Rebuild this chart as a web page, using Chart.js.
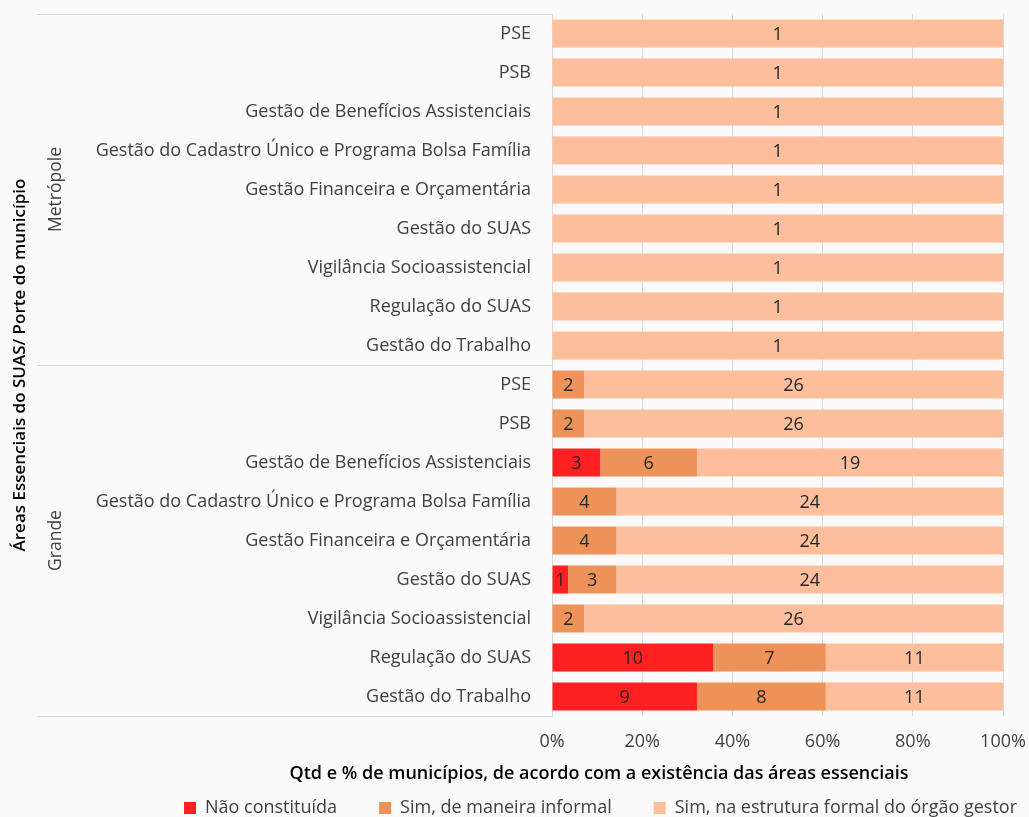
<!DOCTYPE html>
<html>
<head>
<meta charset="utf-8">
<script src="https://cdn.jsdelivr.net/npm/chart.js@4"></script>
<style>
  html, body { margin: 0; padding: 0; background: #fafafa; overflow: hidden; }
  #wrap { width: 1029px; height: 817px; overflow: hidden; }
</style>
</head>
<body>
<div id="wrap"><canvas id="chart" width="1029" height="827"></canvas></div>
<script>
// categories (same 9 areas for each group)
const areas = [
  'PSE',
  'PSB',
  'Gestão de Benefícios Assistenciais',
  'Gestão do Cadastro Único e Programa Bolsa Família',
  'Gestão Financeira e Orçamentária',
  'Gestão do SUAS',
  'Vigilância Socioassistencial',
  'Regulação do SUAS',
  'Gestão do Trabalho'
];
const groups = ['Metrópole', 'Grande'];
const labels = areas.concat(areas);

// counts of municipalities
const naoConstituida = [0, 0, 0, 0, 0, 0, 0, 0, 0,   0, 0, 3, 0, 0, 1, 0, 10, 9];
const simInformal    = [0, 0, 0, 0, 0, 0, 0, 0, 0,   2, 2, 6, 4, 4, 3, 2, 7, 8];
const simFormal      = [1, 1, 1, 1, 1, 1, 1, 1, 1,   26, 26, 19, 24, 24, 24, 26, 11, 11];

const seriesNames = ['Não constituída', 'Sim, de maneira informal', 'Sim, na estrutura formal do órgão gestor'];
const xTitle = 'Qtd e % de municípios, de acordo com a existência das áreas essenciais';
const yTitle = 'Áreas Essenciais do SUAS/ Porte do município';

const totals = labels.map((_, i) => naoConstituida[i] + simInformal[i] + simFormal[i]);
const pct = arr => arr.map((v, i) => v / totals[i] * 100);

const FONT = "'Open Sans', 'Noto Sans', sans-serif";
const GRID = '#d9d9d9';

// draws counts inside bars, group labels, separator lines and x title
const extras = {
  id: 'extras',
  afterDatasetsDraw(chart) {
    const ctx = chart.ctx;
    ctx.save();
    ctx.font = '18px ' + FONT;
    ctx.fillStyle = '#262626';
    ctx.textAlign = 'center';
    ctx.textBaseline = 'middle';
    chart.data.datasets.forEach((ds, di) => {
      const meta = chart.getDatasetMeta(di);
      meta.data.forEach((bar, i) => {
        const n = ds.counts[i];
        if (!n) return;
        ctx.fillText(String(n), (bar.x + bar.base) / 2, bar.y + 1);
      });
    });
    ctx.restore();
  },
  afterDraw(chart) {
    const ctx = chart.ctx;
    const area = chart.chartArea;
    const y = chart.scales.y;
    const x0 = 37;
    ctx.save();
    ctx.strokeStyle = GRID;
    ctx.lineWidth = 1;
    const sep = (y.getPixelForValue(8) + y.getPixelForValue(9)) / 2;
    [area.top, sep, area.bottom].forEach(py => {
      ctx.beginPath();
      ctx.moveTo(x0, Math.round(py) + 0.5);
      ctx.lineTo(area.left, Math.round(py) + 0.5);
      ctx.stroke();
    });
    // group labels
    ctx.font = '17.5px ' + FONT;
    ctx.fillStyle = '#404040';
    ctx.textAlign = 'center';
    ctx.textBaseline = 'middle';
    groups.forEach((g, gi) => {
      const cy = y.getPixelForValue(gi * 9 + 4);
      ctx.save();
      ctx.translate(56, cy);
      ctx.rotate(-Math.PI / 2);
      ctx.fillText(g, 0, 0);
      ctx.restore();
    });
    // x axis title
    ctx.font = '600 18px ' + FONT;
    ctx.fillStyle = '#000';
    ctx.fillText(xTitle, 599, 774);
    ctx.restore();
  }
};

new Chart(document.getElementById('chart'), {
  type: 'bar',
  data: {
    labels: labels,
    datasets: [
      { label: seriesNames[0], data: pct(naoConstituida), counts: naoConstituida, backgroundColor: '#ff2121' },
      { label: seriesNames[1], data: pct(simInformal), counts: simInformal, backgroundColor: '#ed935a' },
      { label: seriesNames[2], data: pct(simFormal), counts: simFormal, backgroundColor: '#fdbf9b' }
    ]
  },
  options: {
    indexAxis: 'y',
    responsive: false,
    animation: false,
    layout: { padding: { top: 14, right: -30, bottom: 0, left: 0 } },
    datasets: { bar: { categoryPercentage: 1, barPercentage: 0.72 } },
    scales: {
      x: {
        stacked: true,
        min: 0,
        max: 100,
        ticks: {
          stepSize: 20,
          padding: 15,
          color: '#404040',
          font: { family: FONT, size: 18 },
          callback: v => v + '%'
        },
        grid: { color: GRID, drawTicks: false },
        border: { display: false },
        afterFit: s => { s.height = 41; s.paddingRight = 26; }
      },
      y: {
        stacked: true,
        ticks: {
          padding: 21,
          color: '#404040',
          font: { family: FONT, size: 18 },
          autoSkip: false
        },
        grid: { display: false, drawTicks: false },
        border: { display: true, color: GRID },
        title: {
          display: true,
          text: yTitle,
          color: '#000',
          padding: { top: 10, bottom: 0 },
          font: { family: FONT, size: 17, weight: '600' }
        },
        afterFit: s => { s.width = 552; s.paddingTop = 0; s.paddingBottom = 0; }
      }
    },
    plugins: {
      legend: {
        position: 'bottom',
        align: 'end',
        labels: {
          boxWidth: 12,
          boxHeight: 12,
          padding: 42,
          color: '#404040',
          font: { family: FONT, size: 18 }
        }
      },
      tooltip: { enabled: false }
    }
  },
  plugins: [extras]
});
</script>
</body>
</html>
